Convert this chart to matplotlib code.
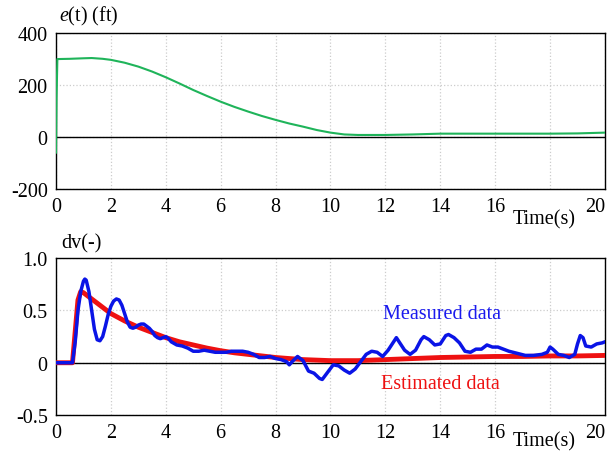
import matplotlib.pyplot as plt

# e(t) trace (top panel)
t_e = [0, 0.02, 0.05, 0.5, 1.0, 1.3, 1.7, 2.0, 2.5, 3.0, 3.5, 4.0, 4.5, 5.0, 5.5,
       6.0, 6.5, 7.0, 7.5, 8.0, 8.5, 9.0, 9.5, 10.0, 10.5, 11.0, 12.0, 13.0,
       14.0, 15.0, 16.0, 17.0, 18.0, 19.0, 20.0]
e_vals = [-60, 150, 300, 301, 303, 304, 301, 297, 286, 271, 252, 230, 206, 181, 158,
          136, 116, 98, 81, 66, 52, 40, 27, 17, 10, 8, 8, 10,
          13, 13, 13, 13, 13, 14, 17]

# dv measured (blue)
t_meas = [0, 0.6, 0.7, 0.8, 0.9, 1.0, 1.05, 1.1, 1.2, 1.3, 1.4, 1.5, 1.6, 1.7, 1.8, 1.9,
          2.0, 2.1, 2.2, 2.3, 2.4, 2.5, 2.6, 2.7, 2.8, 2.9, 3.0, 3.1, 3.2, 3.3, 3.4,
          3.5, 3.6, 3.7, 3.8, 3.9, 4.0, 4.1, 4.2, 4.4, 4.6, 4.8, 5.0, 5.2, 5.4, 5.6,
          5.8, 6.0, 6.2, 6.4, 6.6, 6.8, 7.0, 7.2, 7.4, 7.6, 7.8, 8.0, 8.2, 8.4, 8.5,
          8.6, 8.8, 9.0, 9.2, 9.4, 9.6, 9.7, 9.9, 10.1, 10.3, 10.5, 10.7, 10.9, 11.1,
          11.3, 11.5, 11.7, 11.9, 12.1, 12.3, 12.4, 12.5, 12.7, 12.9, 13.1, 13.3, 13.4,
          13.6, 13.8, 14.0, 14.2, 14.3, 14.5, 14.7, 14.9, 15.1, 15.3, 15.5, 15.7, 15.9,
          16.1, 16.3, 16.5, 16.8, 17.1, 17.4, 17.7, 17.9, 18.0, 18.1, 18.3, 18.5, 18.7,
          18.9, 19.0, 19.1, 19.2, 19.3, 19.5, 19.7, 19.9, 20.0]
dv_meas = [0, 0, 0.2, 0.5, 0.68, 0.78, 0.80, 0.79, 0.68, 0.50, 0.32, 0.22, 0.21, 0.25, 0.35, 0.46,
           0.54, 0.59, 0.61, 0.60, 0.55, 0.47, 0.39, 0.34, 0.33, 0.34, 0.36, 0.37, 0.37, 0.35, 0.33,
           0.30, 0.26, 0.24, 0.23, 0.24, 0.25, 0.23, 0.20, 0.17, 0.16, 0.14, 0.11, 0.11, 0.12, 0.11,
           0.10, 0.10, 0.10, 0.11, 0.11, 0.11, 0.10, 0.08, 0.05, 0.05, 0.06, 0.04, 0.03, 0.01, -0.02,
           0.01, 0.06, 0.02, -0.08, -0.10, -0.15, -0.16, -0.09, -0.02, -0.03, -0.07, -0.10, -0.06, 0.01,
           0.08, 0.11, 0.10, 0.06, 0.12, 0.20, 0.24, 0.20, 0.12, 0.08, 0.12, 0.22, 0.25,
           0.22, 0.17, 0.18, 0.26, 0.27, 0.24, 0.19, 0.11, 0.10, 0.13, 0.13, 0.17, 0.15,
           0.15, 0.13, 0.11, 0.09, 0.07, 0.07, 0.08, 0.10, 0.15, 0.13, 0.08, 0.07, 0.05,
           0.08, 0.18, 0.26, 0.24, 0.16, 0.15, 0.18, 0.19, 0.20]

# dv estimated (red)
t_est = [0, 0.6, 0.7, 0.8, 0.9, 1.0, 1.2, 1.5, 2.0, 2.5, 3.0, 3.5, 4.0, 4.5, 5.0, 5.5,
         6.0, 6.5, 7.0, 7.5, 8.0, 8.5, 9.0, 9.5, 10, 10.5, 11, 12, 13, 14, 15, 16, 17,
         18, 19, 20]
dv_est = [0, 0, 0.3, 0.6, 0.68, 0.67, 0.63, 0.57, 0.47, 0.40, 0.34, 0.29, 0.24, 0.20, 0.17, 0.14,
          0.115, 0.095, 0.08, 0.065, 0.05, 0.04, 0.03, 0.025, 0.02, 0.02, 0.02, 0.03, 0.04, 0.05, 0.055, 0.06, 0.06,
          0.065, 0.065, 0.07]

x_ticks = [0, 2, 4, 6, 8, 10, 12, 14, 16, 20]

plt.rcParams["font.family"] = ["Liberation Serif", "DejaVu Serif"]
plt.rcParams["font.size"] = 14.5
plt.rcParams["mathtext.fontset"] = "custom"
plt.rcParams["mathtext.it"] = "Liberation Serif:italic"
plt.rcParams["mathtext.rm"] = "Liberation Serif"

fig = plt.figure(figsize=(6.12, 4.52), dpi=100)
ax1 = fig.add_axes([0.0915, 0.5796, 0.897, 0.345])
ax2 = fig.add_axes([0.0915, 0.0796, 0.897, 0.347])


def style_axes(ax, yticks, ylabels, time_y):
    ax.set_xlim(0, 20)
    ax.set_xticks(x_ticks)
    ax.set_xticks([18], minor=True)
    ax.set_yticks(yticks)
    ax.set_yticklabels(ylabels)
    ax.tick_params(length=0, pad=6, which="both")
    ax.grid(True, which="both", color="#cccccc", linestyle=":", linewidth=0.9)
    ax.axhline(0, color="black", linewidth=1.0, zorder=2)
    for s in ax.spines.values():
        s.set_linewidth(1.0)
    ax.get_xticklabels()[-1].set_horizontalalignment("right")
    ax.text(0.89, time_y, "Time(s)", transform=ax.transAxes, ha="center", va="center")


ax1.plot(t_e, e_vals, color="#1fb45a", linewidth=1.5, zorder=3)
ax1.set_ylim(-200, 400)
style_axes(ax1, [-200, 0, 200, 400], ["-200", "0", "200", "400"], -0.19)
ax1.text(0.005, 1.11, r"$e$(t) (ft)", transform=ax1.transAxes, ha="left", va="center")

ax2.plot(t_est, dv_est, color="#ee1111", linewidth=3.5, zorder=3)
ax2.plot(t_meas, dv_meas, color="#0a14e6", linewidth=2.5, zorder=4)
ax2.set_ylim(-0.5, 1.0)
style_axes(ax2, [-0.5, 0, 0.5, 1.0], ["-0.5", "0", "0.5", "1.0"], -0.165)
ax2.text(0.01, 1.1, "dv(-)", transform=ax2.transAxes, ha="left", va="center")
ax2.text(14.05, 0.47, "Measured data", color="#1a1aee", ha="center", va="center")
ax2.text(14.0, -0.2, "Estimated data", color="#ee1111", ha="center", va="center")

fig.savefig("out.png", dpi=100)
